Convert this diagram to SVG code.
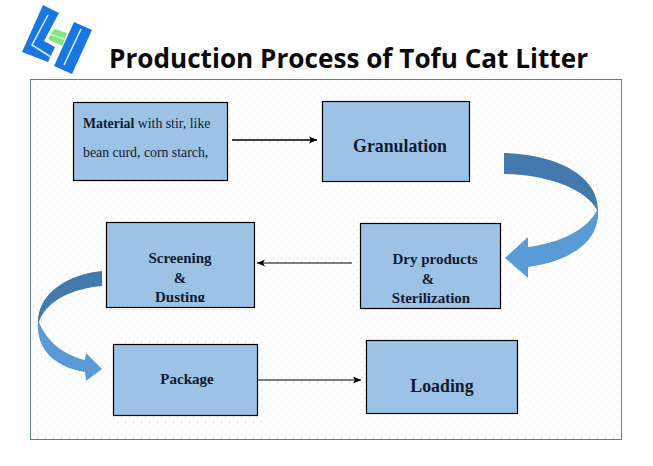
<svg xmlns="http://www.w3.org/2000/svg" width="653" height="466" viewBox="0 0 653 466">
<style>
.box{fill:#9cc2e5;stroke:#000;stroke-width:1.2}
.t{font-family:"Liberation Serif",serif;fill:#0f1a30}
.b{font-weight:bold;font-size:15px;text-anchor:middle}
.m{font-size:13.800px}
.big{font-size:17.800px}
.ln{fill:none;stroke:#000}
</style>
<defs>
<pattern id="dots" width="8" height="8" patternUnits="userSpaceOnUse"><rect width="8" height="8" fill="#fff"/><rect x="1" y="1" width="1" height="2" fill="#e2e6e9"/><rect x="5" y="5" width="1" height="2" fill="#e6e5e0"/></pattern>
<marker id="ah" markerWidth="9" markerHeight="8" refX="8" refY="4" orient="auto" markerUnits="userSpaceOnUse"><path d="M0 0.5L8 4L0 7.500L2 4Z" fill="#000"/></marker>
<clipPath id="dustclip"><rect x="106" y="285" width="148" height="17"/></clipPath>
</defs>
<rect width="653" height="466" fill="#fff"/>
<g id="logo">
<path d="M54 29L67 33L62 46L48 39Z" fill="#7fe87f"/>
<path d="M50 34L64 39" fill="none" stroke="#d6f8d6" stroke-width="1.500"/>
<path d="M43 5L59 13L44 41L55 47L48 62L22 52Z" fill="#1a77e0"/>
<path d="M74 22L92 30L72 74L54 66Z" fill="#1a77e0"/>
<path d="M48 15L32 45L51 57" fill="none" stroke="#d8f0ff" stroke-width="1.500"/>
<path d="M81 29L64 65" fill="none" stroke="#d8f0ff" stroke-width="1.500"/>
</g>
<text x="109" y="68" font-family="'Open Sans',sans-serif" font-weight="bold" font-size="26.500" textLength="479" lengthAdjust="spacingAndGlyphs" fill="#0a0a0a">Production Process of Tofu Cat Litter</text>
<rect id="panel" x="30.500" y="79.500" width="591" height="360" fill="url(#dots)" stroke="#5f7f92" stroke-width="1"/>
<g id="connectors">
<path class="ln" stroke-width="1.600" d="M232 140H317" marker-end="url(#ah)"/>
<path class="ln" d="M352 263H257" marker-end="url(#ah)"/>
<path class="ln" d="M258 380H361" marker-end="url(#ah)"/>
<path d="M504 153C550 154 598 172 598 210L597 210C586 190 550 175 504 174Z" fill="#4479ae"/>
<path d="M598 210C600 245 565 262 528 267L528 278L505 258L528 237L528 247C560 243 587 230 597 210Z" fill="#5b9bd5"/>
<path d="M102 271C70 274 38 292 38 322L39 322C46 300 75 288 102 286Z" fill="#4479ae"/>
<path d="M38 322C36 350 55 367 85 372L86 381L102 369L86 353L85 360C64 355 47 342 39 322Z" fill="#5b9bd5"/>
</g>
<g id="material"><rect class="box" x="73.500" y="102.500" width="154" height="78"/>
<text class="t m" x="83" y="128"><tspan font-weight="bold">Material</tspan> with stir, like</text>
<text class="t m" x="83" y="157">bean curd, corn starch,</text></g>
<g id="granulation"><rect class="box" x="322.500" y="101.500" width="147" height="80"/>
<text class="t b big" x="400" y="152">Granulation</text></g>
<g id="dry"><rect class="box" x="360.500" y="223.500" width="140" height="85"/>
<text class="t b" x="435" y="264">Dry products</text>
<text class="t b" x="428" y="284">&amp;</text>
<text class="t b" x="431" y="303">Sterilization</text></g>
<g id="screening"><rect class="box" x="106.500" y="222.500" width="148" height="85"/>
<text class="t b" x="180" y="263">Screening</text>
<text class="t b" x="180" y="283">&amp;</text>
<text class="t b" x="180" y="302" clip-path="url(#dustclip)">Dusting</text></g>
<g id="package"><rect class="box" x="113.500" y="344.500" width="144" height="71"/>
<text class="t b" x="187" y="384">Package</text></g>
<g id="loading"><rect class="box" x="366.500" y="340.500" width="151" height="73"/>
<text class="t b big" x="442" y="392">Loading</text></g>
</svg>
